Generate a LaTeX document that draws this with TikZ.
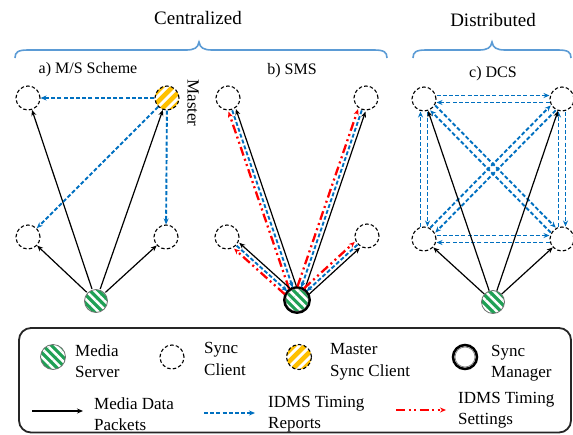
\documentclass[tikz,border=0pt]{standalone}
\usepackage{fontspec}
\setmainfont{Liberation Serif}
\usetikzlibrary{arrows.meta,calc,patterns.meta}
\definecolor{idblue}{HTML}{0070C0}
\definecolor{brblue}{HTML}{5B9BD5}
\definecolor{srvgreen}{HTML}{1FA055}
\definecolor{mgold}{HTML}{FFC000}
% #1 style, #2 from, #3 to, #4 perpendicular offset (left of from->to), #5 distance from centres
\newcommand\parline[5]{%
  \pgfmathsetmacro\pld{veclen(#5,#4)}%
  \pgfmathsetmacro\pla{atan2(#4,#5)}%
  \pgfmathsetmacro\plb{-atan2(#4,#5)}%
  \draw[#1] ($(#2)!\pld pt!\pla:(#3)$) -- ($(#3)!\pld pt!\plb:(#2)$);}
\begin{document}
\begin{tikzpicture}[x=1pt,y=-1pt,
  client/.style={circle,draw=black,dash pattern=on 3.5pt off 2.2pt,line width=1.1pt,fill=white,minimum size=24pt,inner sep=0pt},
  server/.style={circle,draw=black!55,line width=0.8pt,minimum size=23pt,inner sep=0pt,
     preaction={fill=srvgreen},pattern={Lines[angle=-45,distance=6pt,line width=2.5pt]},pattern color=white},
  master/.style={circle,draw=black,dash pattern=on 3.5pt off 2.2pt,line width=1.1pt,minimum size=24pt,inner sep=0pt,
     fill=white,path picture={\foreach \o in {-16.5,-5.5,5.5,16.5}{\draw[solid,mgold,line width=4.6pt]
        ([shift={(\o-16,16)}]path picture bounding box.center) -- ([shift={(\o+16,-16)}]path picture bounding box.center);}}},
  arr/.style={-{Stealth[length=6pt,width=5pt]}},
  data/.style={black,line width=1.2pt,arr},
  rep/.style={idblue,line width=1.9pt,dash pattern=on 4pt off 2.2pt,arr},
  sett/.style={red,line width=2.3pt,dash pattern=on 9pt off 3.5pt on 2pt off 3.5pt on 2pt off 3.5pt,arr},
  brace/.style={brblue,line width=1.6pt},
  title/.style={font=\fontsize{19}{23}\selectfont,inner sep=0pt},
  plabel/.style={font=\fontsize{16}{19}\selectfont,inner sep=0pt},
  leg/.style={font=\fontsize{17}{21.5}\selectfont,align=left,anchor=west,inner sep=0pt}]
\useasboundingbox (0,0) rectangle (573,434);

% titles and braces
\node[title] (tcen) at (198,18) {Centralized};
\node[title] (tdis) at (493,20) {Distributed};
\draw[brace] (15,58) .. controls (15,52) and (18,50) .. (28,50) -- (186,50)
  .. controls (194,50) and (198,48) .. (199,42) .. controls (200,48) and (204,50) .. (212,50)
  -- (374,50) .. controls (384,50) and (387,52) .. (387,58);
\draw[brace] (413,58) .. controls (413,52) and (416,50) .. (426,50) -- (479,50)
  .. controls (487,50) and (491,48) .. (492,42) .. controls (493,48) and (497,50) .. (505,50)
  -- (558,50) .. controls (568,50) and (571,52) .. (571,58);

\node[plabel] (la) at (88,70) {a) M/S Scheme};
\node[plabel] (lb) at (292,71) {b) SMS};
\node[plabel] (lc) at (493,74) {c) DCS};
\node[plabel,font=\fontsize{17}{19}\selectfont,rotate=-90] (lm) at (193,103) {Master};

% panel a
\node[client] (aTL) at (28,98) {};
\node[master] (aM) at (167,98) {};
\node[client] (aBL) at (28,237) {};
\node[client] (aBR) at (166,237) {};
\node[server] (aS) at (96,301) {};
\draw[data] (aS) -- (aTL);
\draw[data] (aS) -- (aM);
\draw[data] (aS) -- (aBL);
\draw[data] (aS) -- (aBR);
\draw[rep] (aM) -- (aTL);
\draw[rep] (aM) -- (aBL);
\draw[rep] (aM) -- (aBR);

% panel b
\node[client] (bTL) at (228,98) {};
\node[client] (bTR) at (366,98) {};
\node[client] (bBL) at (227,237) {};
\node[client] (bBR) at (367,236) {};
\node[server] (bS) at (297,300) {};
\draw[line width=2.3pt] (bS.center) circle[radius=12.8pt];
\foreach \c in {bTL,bTR,bBL,bBR}{
  \parline{data}{bS}{\c}{-3.9}{13}
  \parline{rep}{\c}{bS}{0}{13}
  \parline{sett}{bS}{\c}{3.9}{13}
}

% panel c
\node[client] (cTL) at (424,99) {};
\node[client] (cTR) at (562,99) {};
\node[client] (cBL) at (424,239) {};
\node[client] (cBR) at (562,239) {};
\node[server] (cS) at (493,302) {};
\foreach \a/\b in {cTL/cTR,cBL/cBR,cTL/cBL,cTR/cBR,cTL/cBR,cTR/cBL}{
  \parline{rep}{\a}{\b}{3.5}{12.5}
  \parline{rep}{\b}{\a}{3.5}{12.5}
}
\draw[data] (cS) -- (cTL);
\draw[data] (cS) -- (cTR);
\draw[data] (cS) -- (cBL);
\draw[data] (cS) -- (cBR);

% legend
\draw[line width=1.8pt,black!85,rounded corners=12pt] (19,328) rectangle (571,432.5);
\node[server,minimum size=25pt] (gS) at (53,357) {};
\node[leg] (gSt) at (75,361) {Media\\Server};
\node[client] (gC) at (172,357) {};
\node[leg] (gCt) at (204,359) {Sync\\Client};
\node[master,minimum size=25pt] (gM) at (299,357) {};
\node[leg] (gMt) at (330,362) {Master\\Sync Client};
\node[circle,draw=black!50,line width=0.7pt,fill=white,minimum size=20pt,inner sep=0pt] (gG) at (465,357) {};
\draw[line width=2.5pt] (gG.center) circle[radius=12pt];
\node[leg] (gGt) at (491,363) {Sync\\Manager};

\coordinate (k1a) at (32,411); \coordinate (k1b) at (83,411);
\draw[data] (k1a) -- (k1b);
\node[leg] (k1t) at (94,414) {Media Data\\Packets};
\coordinate (k2a) at (204,413); \coordinate (k2b) at (255,413);
\draw[rep] (k2a) -- (k2b);
\node[leg] (k2t) at (268,414) {IDMS Timing\\Reports};
\coordinate (k3a) at (396,410); \coordinate (k3b) at (446,410);
\draw[sett] (k3a) -- (k3b);
\node[leg] (k3t) at (458,410) {IDMS Timing\\Settings};
\end{tikzpicture}
\end{document}
